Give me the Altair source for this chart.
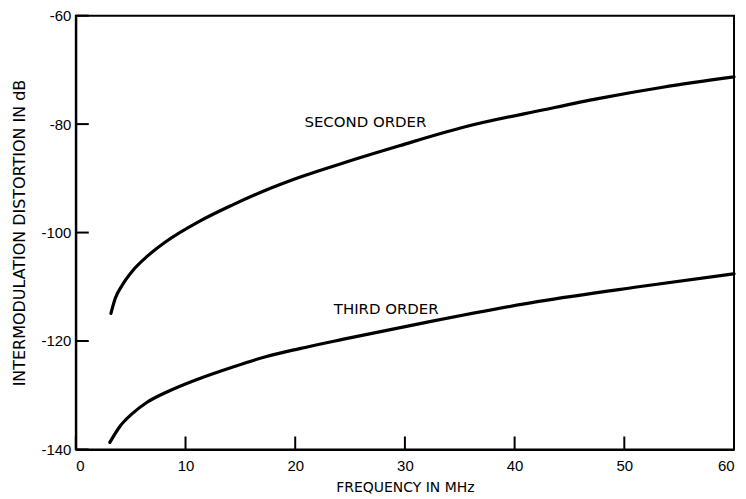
import altair as alt
import pandas as pd

# Second-order intermodulation distortion
f2 = [3.2, 3.6, 4.2, 5.2, 6.5, 8.2, 11.3, 14.3, 17.3, 20.4, 24.8, 29.5, 35.5, 42.8, 47.6, 53.5, 60.0]
d2 = [-114.9, -112.1, -109.8, -107.0, -104.4, -101.7, -97.9, -94.9, -92.2, -89.8, -86.9, -84.0, -80.5, -77.3, -75.3, -73.2, -71.3]

# Third-order intermodulation distortion
f3 = [3.1, 4.0, 5.2, 6.5, 8.2, 11.3, 14.3, 17.3, 20.4, 24.3, 31.6, 42.2, 51.3, 60.0]
d3 = [-138.7, -135.8, -133.3, -131.3, -129.5, -126.9, -124.8, -122.9, -121.4, -119.7, -116.7, -112.7, -110.0, -107.6]

x_ticks = [0, 10, 20, 30, 40, 50, 60]
y_ticks = [-140, -120, -100, -80, -60]

label_text = ["SECOND ORDER", "THIRD ORDER"]
label_x = [26.4, 28.3]
label_y = [-79.7, -114.1]

W, H = 660, 435

curves = pd.DataFrame(
    {"f": f2 + f3, "d": d2 + d3,
     "order": ["second"] * len(f2) + ["third"] * len(f3)}
)
labels = pd.DataFrame({"t": label_text, "f": label_x, "d": label_y})
xt = pd.DataFrame({"f": x_ticks})
yt = pd.DataFrame({"d": y_ticks})

xscale = alt.Scale(domain=[0, 60], nice=False, zero=False)
yscale = alt.Scale(domain=[-140, -60], nice=False, zero=False)

xaxis = alt.Axis(values=x_ticks, grid=False, ticks=False, domainColor="black",
                 domainWidth=2, labelFont="Liberation Sans", labelFontSize=15,
                 labelColor="black", labelPadding=9, labelExpr="'' + datum.value",
                 title="FREQUENCY IN MHz", titleFont="DejaVu Sans",
                 titleFontSize=14, titleFontWeight="normal", titleColor="black",
                 titlePadding=7)
yaxis = alt.Axis(values=y_ticks, grid=False, ticks=False, domainColor="black",
                 domainWidth=2, labelFont="Liberation Sans", labelFontSize=15,
                 labelColor="black", labelPadding=5, labelExpr="'' + datum.value",
                 title="INTERMODULATION DISTORTION IN dB", titleFont="DejaVu Sans",
                 titleFontSize=16, titleFontWeight="normal", titleColor="black",
                 titlePadding=13)

X = lambda: alt.X("f:Q", scale=xscale, axis=xaxis)
Y = lambda: alt.Y("d:Q", scale=yscale, axis=yaxis)

lines = alt.Chart(curves).mark_line(color="black", strokeWidth=3.2, interpolate="monotone",
                                    strokeCap="round").encode(
    x=X(), y=Y(), detail="order:N",
)

text = alt.Chart(labels).mark_text(font="DejaVu Sans", fontSize=15, color="black",
                                   align="center", baseline="middle").encode(
    x=X(), y=Y(), text="t:N",
)

xticks = alt.Chart(xt).mark_rule(color="black", strokeWidth=2).encode(
    x=X(), y=alt.value(H), y2=alt.value(H - 13)
)
yticks = alt.Chart(yt).mark_rule(color="black", strokeWidth=2).encode(
    y=Y(), x=alt.value(0), x2=alt.value(13)
)

chart = alt.layer(lines, text, xticks, yticks).properties(
    width=W, height=H,
    background="white",
    autosize=alt.AutoSizeParams(type="none"),
    padding={"left": 68, "top": 7, "right": 4, "bottom": 48},
).configure_view(stroke="black", strokeWidth=2)

chart.save("out.html", embed_options={"renderer": "svg", "actions": False})
